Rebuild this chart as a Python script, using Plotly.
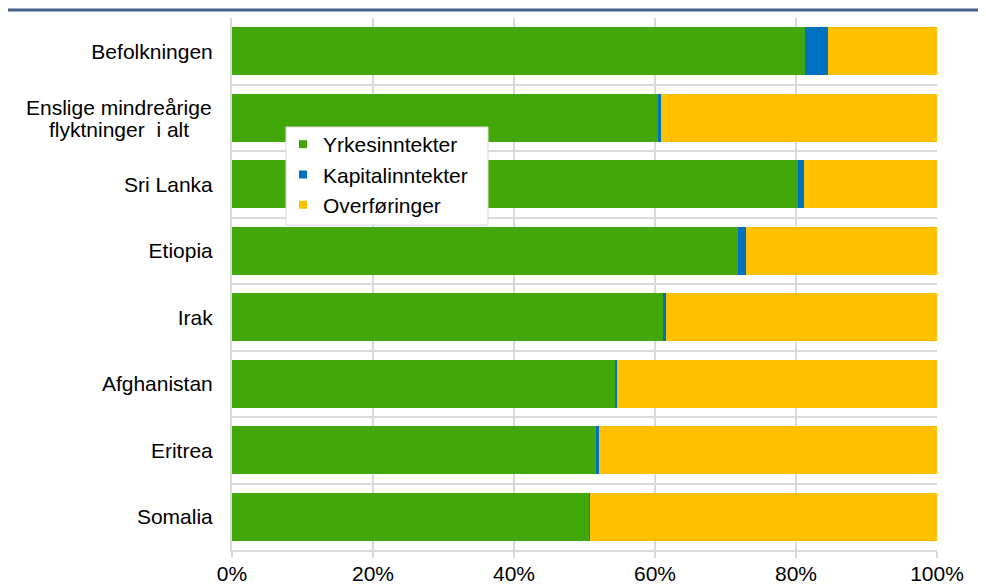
import plotly.graph_objects as go

categories = ["Befolkningen",
              "Enslige mindreårige<br>flyktninger\u00a0\u00a0i alt",
              "Sri Lanka", "Etiopia", "Irak", "Afghanistan", "Eritrea", "Somalia"]
yrkes = [81.3, 60.4, 80.3, 71.8, 61.1, 54.4, 51.6, 50.7]
kapital = [3.3, 0.5, 0.8, 1.1, 0.5, 0.2, 0.4, 0.15]
overf = [round(100 - a - b, 2) for a, b in zip(yrkes, kapital)]

series_names = ["Yrkesinntekter", "Kapitalinntekter", "Overføringer"]
series_values = [yrkes, kapital, overf]
colors = ["#42A80A", "#0070C0", "#FFC000"]
xticks = [0, 20, 40, 60, 80, 100]
xtick_labels = ["0%", "20%", "40%", "60%", "80%", "100%"]

FONT = "Arial, Liberation Sans, sans-serif"
FS = 21

# page offset of 8px (default body margin) compensated in margins
W, H = 978, 577
L, T = 224, 10
PW, PH = 705, 532


def px_x(x):
    return (x - 232) / PW


def px_y(y):
    return (550 - y) / PH


fig = go.Figure()
for name, vals, col in zip(series_names, series_values, colors):
    fig.add_trace(go.Bar(
        y=categories, x=vals, orientation="h", name=name,
        marker=dict(color=col, line=dict(width=0)), showlegend=False,
    ))
for i, (name, col) in enumerate(zip(series_names, colors)):
    fig.add_trace(go.Scatter(
        x=[None], y=[None], mode="markers", name=name,
        marker=dict(symbol="square", size=8, color=col),
        legendgroup=f"g{i}",
    ))

ytext = []
annotations = []
for c in categories:
    if "<br>" in c:
        ytext.append("")
        lines = c.split("<br>")
        n = len(lines)
        for k, ln in enumerate(lines):
            annotations.append(dict(
                x=px_x(119), xref="paper", xanchor="center",
                y=c, yref="y", yanchor="middle",
                yshift=(n - 1) / 2 * 22 - k * 22 - 1,
                text=ln, showarrow=False,
                font=dict(family=FONT, size=FS, color="#000000"),
            ))
    else:
        ytext.append(c)

fig.update_layout(
    barmode="stack",
    bargap=0.28,
    width=W, height=H,
    margin=dict(l=L, r=W - L - PW, t=T, b=H - T - PH),
    paper_bgcolor="white", plot_bgcolor="white",
    font=dict(family=FONT, size=FS, color="#000000"),
    showlegend=True,
    legend=dict(
        x=px_x(283), y=px_y(124), xanchor="left", yanchor="top",
        bgcolor="rgba(0,0,0,0)", borderwidth=0,
        font=dict(family=FONT, size=FS, color="#000000"),
        tracegroupgap=6, traceorder="normal",
    ),
    xaxis=dict(
        range=[0, 100], tickvals=xticks, ticktext=xtick_labels,
        showgrid=True, gridcolor="#D9D9D9", gridwidth=2,
        showline=True, linecolor="#D9D9D9", linewidth=2,
        ticks="outside", ticklen=6, tickcolor="#D9D9D9", tickwidth=2,
        ticklabelstandoff=-2, zeroline=False, fixedrange=True,
        automargin=False,
    ),
    yaxis=dict(
        autorange="reversed", tickson="boundaries",
        tickvals=categories, ticktext=ytext,
        showgrid=True, gridcolor="#D9D9D9", gridwidth=2,
        showline=True, linecolor="#D9D9D9", linewidth=2,
        ticks="", ticklabelstandoff=13, zeroline=False, fixedrange=True,
        automargin=False,
    ),
    annotations=annotations,
    shapes=[
        dict(type="line", xref="paper", yref="paper",
             x0=px_x(3), x1=px_x(986), y0=px_y(10), y1=px_y(10),
             line=dict(color="#44618B", width=3)),
        dict(type="rect", xref="paper", yref="paper", layer="above",
             x0=px_x(286), x1=px_x(488), y0=px_y(225), y1=px_y(127),
             fillcolor="white", line=dict(color="#D9D9D9", width=1)),
    ],
)

fig.write_html("out.html")
